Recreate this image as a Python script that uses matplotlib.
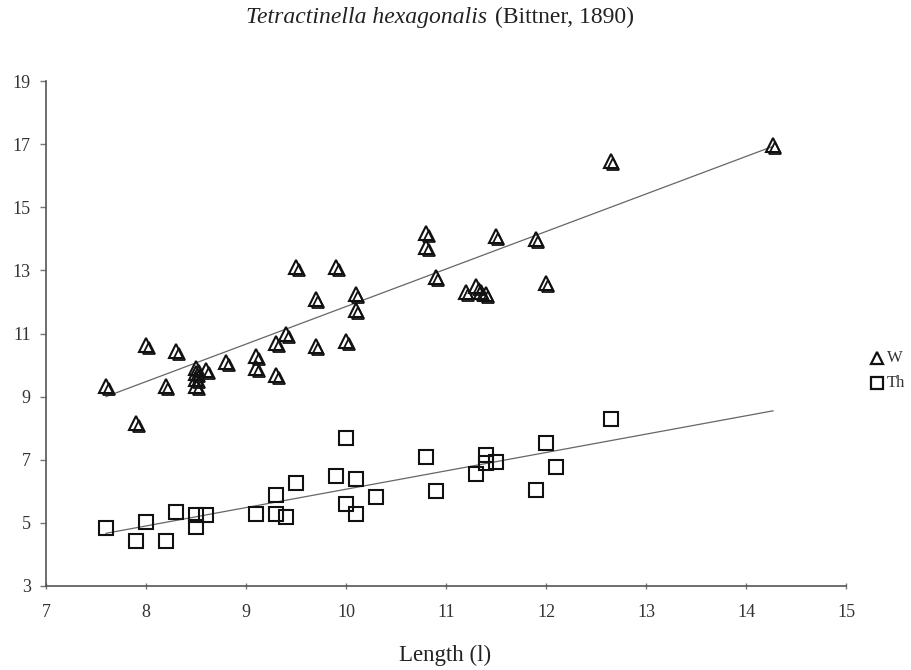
import numpy as np
import matplotlib
matplotlib.use('Agg')
import matplotlib.pyplot as plt
import matplotlib.transforms as mtransforms

# Datos
w_x = [7.6, 7.9, 8.0, 8.2, 8.3, 8.5, 8.5, 8.5, 8.5, 8.6, 8.8, 9.1, 9.1, 9.3, 9.3,
       9.4, 9.5, 9.7, 9.7, 9.9, 10.0, 10.1, 10.1, 10.8, 10.8, 10.9, 11.2, 11.3,
       11.35, 11.4, 11.5, 11.9, 12.0, 12.65, 14.27]
w_y = [9.35, 8.15, 10.65, 9.35, 10.45, 9.9, 9.75, 9.55, 9.35, 9.85, 10.1, 10.3,
       9.9, 9.7, 10.7, 11.0, 13.1, 12.1, 10.6, 13.1, 10.75, 12.25, 11.75, 14.2,
       13.75, 12.8, 12.3, 12.5, 12.3, 12.25, 14.1, 14.0, 12.6, 16.45, 16.97]

th_x = [7.6, 7.9, 8.0, 8.2, 8.3, 8.5, 8.5, 8.6, 9.1, 9.3, 9.3, 9.4, 9.5, 9.9,
        10.0, 10.0, 10.1, 10.1, 10.3, 10.8, 10.9, 11.3, 11.4, 11.4, 11.5, 11.9,
        12.0, 12.1, 12.65]
th_y = [4.83, 4.44, 5.04, 4.44, 5.33, 5.25, 4.86, 5.25, 5.28, 5.88, 5.28, 5.18,
        6.25, 6.49, 7.68, 5.60, 6.38, 5.28, 5.81, 7.10, 6.02, 6.55, 7.15, 6.91,
        6.94, 6.04, 7.54, 6.76, 8.28]

# Lineas de tendencia (extremos leidos)
trend_x = [7.6, 14.27]
trend_w = [9.0, 16.93]
trend_th = [4.67, 8.55]

x_ticks = [7, 8, 9, 10, 11, 12, 13, 14, 15]
y_ticks = [3, 5, 7, 9, 11, 13, 15, 17, 19]

plt.rcParams['font.family'] = ['Liberation Serif', 'DejaVu Serif']

W, H = 912, 670
fig = plt.figure(figsize=(W / 100, H / 100), dpi=100)
ax = fig.add_axes([46 / W, 1 - 586 / H, 800 / W, 505 / H])

ax.plot(trend_x, trend_w, '-', color='#666666', lw=0.9, zorder=1)
ax.plot(trend_x, trend_th, '-', color='#666666', lw=0.9, zorder=1)

# Triangulos dobles como en el escaneo
off = mtransforms.ScaledTranslation(2.5 / 100, -3 / 100, fig.dpi_scale_trans)
ax.plot(w_x, w_y, '^', ms=10.5, mfc='none', mec='#111111', mew=1.5, zorder=3)
ax.plot(w_x, w_y, '^', ms=8, mfc='none', mec='#111111', mew=1.3, zorder=3,
        transform=ax.transData + off)
ax.plot(th_x, th_y, 's', ms=9.5, mfc='none', mec='#111111', mew=1.5, zorder=3)

ax.set_xlim(7, 15)
ax.set_ylim(3, 19)
ax.set_xticks(x_ticks)
ax.set_yticks(y_ticks)

for s in ['top', 'right']:
    ax.spines[s].set_visible(False)
for s in ['left', 'bottom']:
    ax.spines[s].set_color('#555555')
    ax.spines[s].set_linewidth(1.2)

ax.tick_params(axis='y', direction='out', length=4, width=1, color='#777777',
               labelsize=13, labelcolor='#333333', pad=7)
ax.tick_params(axis='x', direction='inout', length=4, width=1, color='#777777',
               labelsize=13, labelcolor='#333333', pad=11)

# Leyenda manual
ax.plot([877 / W], [1 - 358 / H], '^', ms=8, mfc='none', mec='#111111', mew=1.6,
        transform=fig.transFigure, clip_on=False)
fig.text(887 / W, 1 - 358 / H, 'W', fontsize=12, ha='left', va='center',
         color='#333333')
ax.plot([877 / W], [1 - 383 / H], 's', ms=8, mfc='none', mec='#111111', mew=1.6,
        transform=fig.transFigure, clip_on=False)
fig.text(887 / W, 1 - 383 / H, 'Th', fontsize=12, ha='left', va='center',
         color='#333333')

# Titulo
fig.text(487 / W, 1 - 17 / H, 'Tetractinella hexagonalis', style='italic',
         fontsize=17, ha='right', va='center', color='#222222')
fig.text(495 / W, 1 - 17 / H, '(Bittner, 1890)', fontsize=17, ha='left',
         va='center', color='#222222')

fig.text(445 / W, 1 - 655 / H, 'Length (l)', fontsize=16.5, ha='center',
         va='center', color='#222222')

plt.savefig('out.png', dpi=100)
